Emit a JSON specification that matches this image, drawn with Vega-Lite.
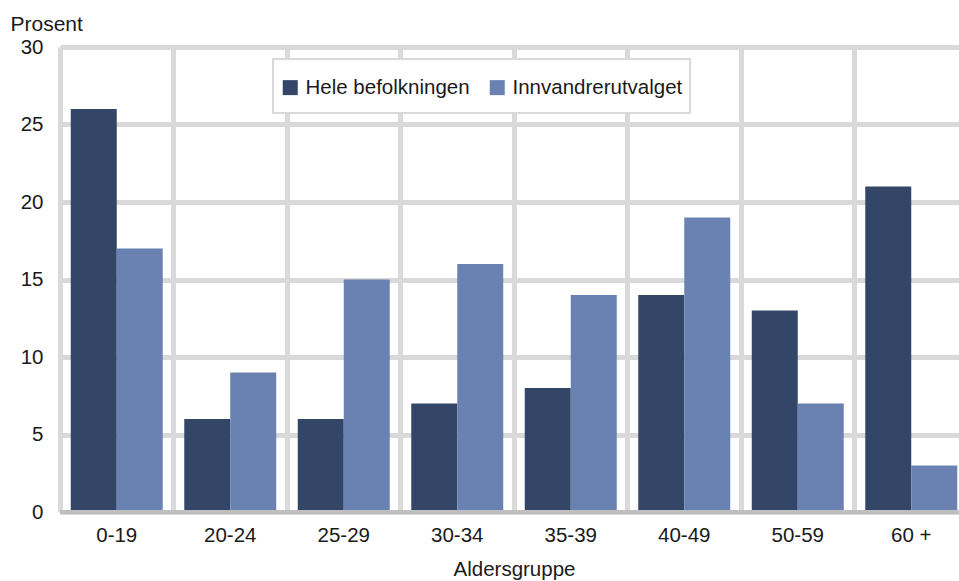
{
  "$schema": "https://vega.github.io/schema/vega-lite/v6.json",
  "width": 899,
  "height": 465,
  "autosize": {"type": "none"},
  "padding": {"left": 60, "top": 47, "right": 0, "bottom": 69},
  "background": "white",
  "config": {
    "view": {"stroke": null},
    "font": "Liberation Sans",
    "axis": {"labelColor": "#1a1a1a", "titleColor": "#1a1a1a", "titleFontWeight": "normal"},
    "legend": {"strokeWidth": 2}
  },
  "data": {
    "values": [
      {"alder": "0-19", "serie": "Hele befolkningen", "verdi": 26},
      {"alder": "0-19", "serie": "Innvandrerutvalget", "verdi": 17},
      {"alder": "20-24", "serie": "Hele befolkningen", "verdi": 6},
      {"alder": "20-24", "serie": "Innvandrerutvalget", "verdi": 9},
      {"alder": "25-29", "serie": "Hele befolkningen", "verdi": 6},
      {"alder": "25-29", "serie": "Innvandrerutvalget", "verdi": 15},
      {"alder": "30-34", "serie": "Hele befolkningen", "verdi": 7},
      {"alder": "30-34", "serie": "Innvandrerutvalget", "verdi": 16},
      {"alder": "35-39", "serie": "Hele befolkningen", "verdi": 8},
      {"alder": "35-39", "serie": "Innvandrerutvalget", "verdi": 14},
      {"alder": "40-49", "serie": "Hele befolkningen", "verdi": 14},
      {"alder": "40-49", "serie": "Innvandrerutvalget", "verdi": 19},
      {"alder": "50-59", "serie": "Hele befolkningen", "verdi": 13},
      {"alder": "50-59", "serie": "Innvandrerutvalget", "verdi": 7},
      {"alder": "60 +", "serie": "Hele befolkningen", "verdi": 21},
      {"alder": "60 +", "serie": "Innvandrerutvalget", "verdi": 3}
    ]
  },
  "layer": [
    {
      "mark": {"type": "bar"},
      "encoding": {
        "x": {
          "field": "alder",
          "type": "nominal",
          "sort": ["0-19", "20-24", "25-29", "30-34", "35-39", "40-49", "50-59", "60 +"],
          "scale": {"range": [0, 908], "paddingInner": 0, "paddingOuter": 0},
          "axis": {
            "title": "Aldersgruppe",
            "titleFontSize": 20.5,
            "titlePadding": 14,
            "labelFontSize": 20.5,
            "labelAngle": 0,
            "labelPadding": 13,
            "ticks": false,
            "domain": false,
            "grid": true,
            "bandPosition": 0,
            "gridColor": "#d9d9d9",
            "gridWidth": 5
          }
        },
        "xOffset": {
          "field": "serie",
          "type": "nominal",
          "sort": ["Hele befolkningen", "Innvandrerutvalget"],
          "scale": {"paddingOuter": 0.234, "paddingInner": 0}
        },
        "y": {
          "field": "verdi",
          "type": "quantitative",
          "scale": {"domain": [0, 30]},
          "axis": {
            "values": [0, 5, 10, 15, 20, 25, 30],
            "title": "Prosent",
            "titleAngle": 0,
            "titleAlign": "left",
            "titleBaseline": "alphabetic",
            "titleX": -50,
            "titleY": -17,
            "titleFontSize": 21,
            "labelFontSize": 20.5,
            "labelPadding": 17,
            "ticks": false,
            "domain": false,
            "grid": true,
            "gridColor": "#d9d9d9",
            "gridWidth": 5
          }
        },
        "color": {
          "field": "serie",
          "type": "nominal",
          "sort": ["Hele befolkningen", "Innvandrerutvalget"],
          "scale": {"range": ["#344668", "#6a82b1"]},
          "legend": {
            "title": " ",
            "titleOrient": "top",
            "titleFontSize": 9,
            "titlePadding": 2,
            "orient": "none",
            "legendX": 213,
            "legendY": 12,
            "direction": "horizontal",
            "labelFontSize": 20.5,
            "labelColor": "#1a1a1a",
            "labelLimit": 400,
            "symbolType": "M-1,-1H1V1H-1ZM0,2.4",
            "symbolSize": 225,
            "symbolStrokeWidth": 0,
            "labelOffset": 5,
            "columnPadding": 17,
            "padding": 7,
            "fillColor": "white",
            "strokeColor": "#d9d9d9"
          }
        }
      }
    },
    {
      "mark": {"type": "rule", "color": "#bfbfbf", "strokeWidth": 4},
      "encoding": {"y": {"datum": 0}}
    }
  ]
}
